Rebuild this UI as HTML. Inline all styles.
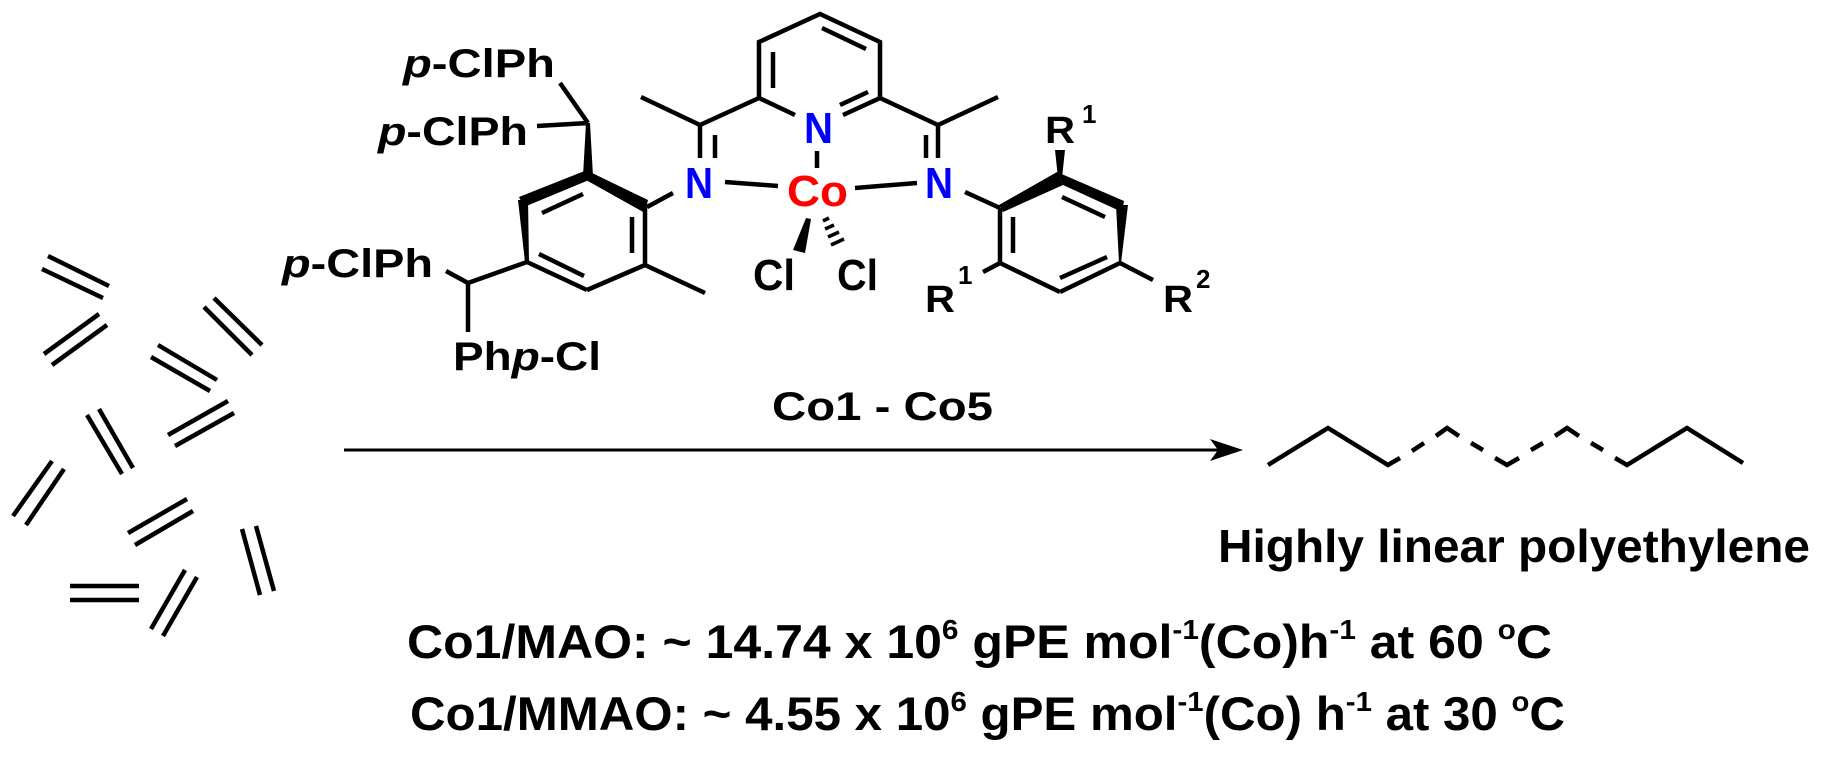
<!DOCTYPE html>
<html><head><meta charset="utf-8"><style>
html,body{margin:0;padding:0;background:#fff;}
svg{display:block;}
text{font-family:"Liberation Sans",Arial,sans-serif;font-weight:bold;}
</style></head><body>
<svg width="1826" height="762" viewBox="0 0 1826 762" xmlns="http://www.w3.org/2000/svg">
<g stroke="#000" stroke-width="4.5" stroke-linecap="butt" fill="none">
<line x1="48" y1="256" x2="109" y2="286"/><line x1="42" y1="269" x2="103" y2="298"/>
<line x1="44" y1="354" x2="99" y2="314"/><line x1="52" y1="365" x2="107" y2="325"/>
<line x1="204" y1="307" x2="252" y2="355"/><line x1="214" y1="298" x2="262" y2="345"/>
<line x1="151" y1="357" x2="210" y2="391"/><line x1="158" y1="345" x2="217" y2="380"/>
<line x1="168" y1="435" x2="228" y2="401"/><line x1="175" y1="446" x2="234" y2="413"/>
<line x1="87" y1="415" x2="122" y2="474"/><line x1="99" y1="409" x2="133" y2="468"/>
<line x1="13" y1="516" x2="52" y2="461"/><line x1="26" y1="525" x2="64" y2="469"/>
<line x1="128" y1="533" x2="187" y2="499"/><line x1="135" y1="545" x2="193" y2="511"/>
<line x1="242" y1="529" x2="260" y2="595"/><line x1="256" y1="526" x2="274" y2="591"/>
<line x1="70" y1="586" x2="139" y2="586"/><line x1="70" y1="600" x2="139" y2="600"/>
<line x1="151" y1="629" x2="185" y2="570"/><line x1="163" y1="636" x2="197" y2="577"/>

<line x1="560" y1="83" x2="588" y2="123"/>
<line x1="537" y1="126" x2="588" y2="123"/>
<line x1="446" y1="271" x2="468" y2="283"/>
<line x1="468" y1="283" x2="527" y2="262"/>
<line x1="468" y1="283" x2="468" y2="332"/>
<line x1="645" y1="207" x2="645" y2="265"/>
<line x1="645" y1="265" x2="587" y2="290"/>
<line x1="587" y1="290" x2="527" y2="262"/>
<line x1="542" y1="213" x2="583" y2="194"/>
<line x1="632" y1="217" x2="632" y2="253"/>
<line x1="539" y1="254" x2="584" y2="276"/>
<line x1="645" y1="265" x2="705" y2="293"/>
<line x1="647" y1="207" x2="673" y2="193"/>
<line x1="700" y1="125" x2="641" y2="97"/>
<line x1="700" y1="125" x2="759" y2="98"/>
<line x1="700" y1="125" x2="700" y2="158"/>
<line x1="715" y1="135" x2="715" y2="158"/>
<line x1="725" y1="182" x2="778" y2="186"/>
<polyline points="795,115 759,98 759,42 820,14 880,42 880,98 843,115"/>
<line x1="773" y1="52" x2="773" y2="88"/>
<line x1="822" y1="28" x2="866" y2="49"/>
<line x1="840" y1="105" x2="868" y2="92"/>
<line x1="817" y1="151" x2="817" y2="168"/>
<line x1="938" y1="125" x2="998" y2="97"/>
<line x1="938" y1="125" x2="880" y2="98"/>
<line x1="938" y1="125" x2="938" y2="158"/>
<line x1="926" y1="135" x2="926" y2="158"/>
<line x1="855" y1="188" x2="917" y2="183"/>
<line x1="965" y1="192" x2="1000" y2="208"/>
<line x1="1000" y1="208" x2="1000" y2="263"/>
<line x1="1000" y1="263" x2="1060" y2="292"/>
<line x1="1060" y1="292" x2="1120" y2="263"/>
<line x1="1013" y1="217" x2="1013" y2="253"/>
<line x1="1062" y1="197" x2="1105" y2="217"/>
<line x1="1060" y1="278" x2="1107" y2="257"/>
<line x1="1000" y1="263" x2="983" y2="272"/>
<line x1="1120" y1="263" x2="1153" y2="280"/>
<line x1="823" y1="221" x2="829" y2="218" stroke-width="3.5"/>
<line x1="825" y1="229" x2="834" y2="225" stroke-width="3.5"/>
<line x1="828" y1="237" x2="839" y2="232" stroke-width="3.5"/>
<line x1="831" y1="245" x2="844" y2="239" stroke-width="3.5"/>
<line x1="344" y1="450" x2="1220" y2="450" stroke-width="3"/>
<polyline points="1268,465 1328,428 1388,465 1400,458"/>
<line x1="1412" y1="451" x2="1424" y2="443"/>
<polyline points="1436,436 1447,428 1459,436"/>
<line x1="1471" y1="443" x2="1483" y2="450"/>
<polyline points="1495,458 1507,465 1519,458"/>
<line x1="1531" y1="450" x2="1543" y2="443"/>
<polyline points="1555,436 1567,428 1579,436"/>
<line x1="1591" y1="443" x2="1603" y2="450"/>
<polyline points="1615,458 1627,465 1687,428 1743,463"/>
</g>
<g fill="#000">
<polygon points="586,123 590,123 593,176 583,176"/>
<polygon points="587,170 589,180 524,207 519,197"/>
<polygon points="588,171 648,200 645,213 586,180"/>
<polygon points="518,200 528,200 529,262 525,262"/>
<polygon points="806,218 811,219 805,253 793,250"/>
<polygon points="999,205 1003,212 1063,185 1057,172"/>
<polygon points="1057,172 1063,185 1122,212 1124,201"/>
<polygon points="1116,205 1128,205 1121,263 1119,263"/>
<polygon points="1055,150 1065,150 1062,178 1058,178"/>
<polygon points="1243,450 1210,439 1218,450 1210,461"/>
</g>
<g font-size="40" fill="#000">
<text x="403" y="77" textLength="152" lengthAdjust="spacingAndGlyphs"><tspan font-style="italic">p</tspan>-ClPh</text>
<text x="378" y="145" textLength="150" lengthAdjust="spacingAndGlyphs"><tspan font-style="italic">p</tspan>-ClPh</text>
<text x="282" y="277" textLength="151" lengthAdjust="spacingAndGlyphs"><tspan font-style="italic">p</tspan>-ClPh</text>
<text x="453" y="370" textLength="148" lengthAdjust="spacingAndGlyphs">Ph<tspan font-style="italic">p</tspan>-Cl</text>
</g>
<g font-size="44">
<text x="685" y="198" fill="#0000ff" textLength="28" lengthAdjust="spacingAndGlyphs">N</text>
<text x="804" y="143" fill="#0000ff" textLength="29" lengthAdjust="spacingAndGlyphs">N</text>
<text x="925" y="198" fill="#0000ff" textLength="28" lengthAdjust="spacingAndGlyphs">N</text>
<text x="787" y="206" fill="#ff0000" textLength="61" lengthAdjust="spacingAndGlyphs">Co</text>
<text x="753" y="290" fill="#000" textLength="42" lengthAdjust="spacingAndGlyphs">Cl</text>
<text x="837" y="290" fill="#000" textLength="41" lengthAdjust="spacingAndGlyphs">Cl</text>
</g>
<g font-size="38" fill="#000">
<text x="1045" y="143" textLength="30" lengthAdjust="spacingAndGlyphs">R</text>
<text x="1082" y="123" font-size="26">1</text>
<text x="925" y="312" textLength="30" lengthAdjust="spacingAndGlyphs">R</text>
<text x="958" y="284" font-size="26">1</text>
<text x="1163" y="312" textLength="30" lengthAdjust="spacingAndGlyphs">R</text>
<text x="1196" y="288" font-size="26">2</text>
<text x="772" y="420" font-size="40" textLength="221" lengthAdjust="spacingAndGlyphs">Co1 - Co5</text>
</g>
<text x="1218" y="562" font-size="46" textLength="592" lengthAdjust="spacingAndGlyphs">Highly linear polyethylene</text>
<text x="407" y="658" font-size="47" textLength="1145" lengthAdjust="spacingAndGlyphs">Co1/MAO: ~ 14.74 x 10<tspan font-size="28" dy="-19">6</tspan><tspan dy="19"> gPE mol</tspan><tspan font-size="28" dy="-19">-1</tspan><tspan dy="19">(Co)h</tspan><tspan font-size="28" dy="-19">-1</tspan><tspan dy="19"> at 60 </tspan><tspan font-size="28" dy="-19">o</tspan><tspan dy="19">C</tspan></text>
<text x="410" y="730" font-size="47" textLength="1155" lengthAdjust="spacingAndGlyphs">Co1/MMAO: ~ 4.55 x 10<tspan font-size="28" dy="-19">6</tspan><tspan dy="19"> gPE mol</tspan><tspan font-size="28" dy="-19">-1</tspan><tspan dy="19">(Co) h</tspan><tspan font-size="28" dy="-19">-1</tspan><tspan dy="19"> at 30 </tspan><tspan font-size="28" dy="-19">o</tspan><tspan dy="19">C</tspan></text>
</svg>
</body></html>
